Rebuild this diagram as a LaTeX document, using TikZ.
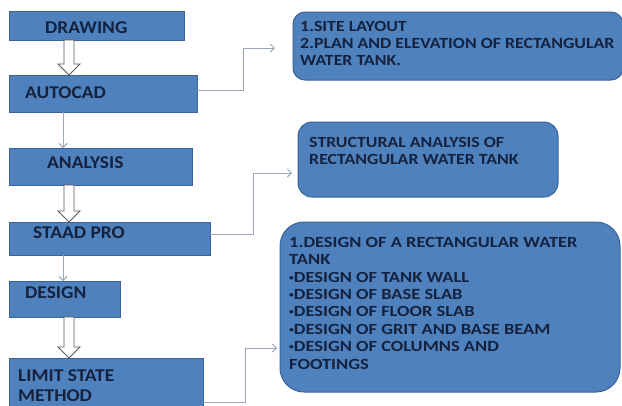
\documentclass[tikz,border=0pt]{standalone}
\usepackage{fontspec}
\setmainfont{Carlito}
\usetikzlibrary{arrows.meta,calc}
\definecolor{boxblue}{HTML}{4F81BD}
\definecolor{boxedge}{HTML}{3A639A}
\definecolor{txt}{HTML}{14223F}
\definecolor{conn}{HTML}{9AA6BA}
\definecolor{hol}{HTML}{5A5A5A}
\newcommand\smbul{\raisebox{2pt}{\fontsize{8}{8}\selectfont •}}
\begin{document}
\begin{tikzpicture}[x=1pt,y=-1pt,
  lbox/.style={draw=boxedge, fill=boxblue, line width=1pt, anchor=north west, inner sep=0pt, outer sep=0pt},
  rbox/.style={lbox, rounded corners=#1},
  ltext/.style={text=txt, font=\fontsize{18}{20}\selectfont\bfseries, anchor=west, inner sep=0pt, xscale=1.08, transform shape},
  rtext/.style={text=txt, font=\fontsize{15.5}{17}\selectfont\bfseries, anchor=north west, align=left, inner sep=0pt, xscale=1.15, transform shape},
  conn/.style={draw=conn, line width=0.9pt, -{Straight Barb[length=4pt,width=8pt]}},
  hollow/.style={draw=hol, fill=white, line width=0.9pt, line join=miter}]
\useasboundingbox (0,0) rectangle (622,405);
\clip (0,0) rectangle (622,405);
% left boxes
\node[lbox, minimum width=175pt, minimum height=29pt] (drawing) at (9,11) {};
\node[lbox, minimum width=188pt, minimum height=37pt] (autocad) at (9,75) {};
\node[lbox, minimum width=183pt, minimum height=37pt] (analysis) at (9,148) {};
\node[lbox, minimum width=201pt, minimum height=33pt] (staad) at (9,222) {};
\node[lbox, minimum width=111pt, minimum height=36pt] (design) at (9,281) {};
\node[lbox, minimum width=194pt, minimum height=88pt] (limit) at (9,358) {};
% left texts
\node[ltext] (tdrawing) at (45,27.5) {DRAWING};
\node[ltext] (tautocad) at (25,93) {AUTOCAD};
\node[ltext] (tanalysis) at (47,163) {ANALYSIS};
\node[ltext] (tstaad) at (33,233) {STAAD PRO};
\node[ltext] (tdesign) at (25,293) {DESIGN};
\node[ltext, anchor=north west, align=left] (tlimit) at (18,369.5) {LIMIT STATE\\METHOD};
% right boxes
\node[rbox=12pt, minimum width=330pt, minimum height=68pt] (b1) at (293,12) {};
\node[rbox=14pt, minimum width=260pt, minimum height=75pt] (b2) at (298,122) {};
\node[rbox=24pt, minimum width=340pt, minimum height=170pt] (b3) at (280,222) {};
% right texts
\node[rtext] (t1) at (300,21) {1.SITE LAYOUT\\2.PLAN AND ELEVATION OF RECTANGULAR\\WATER TANK.};
\node[rtext] (t2) at (309,137) {STRUCTURAL ANALYSIS OF\\RECTANGULAR WATER TANK};
\node[rtext, xscale=1.035, font=\fontsize{15.5}{17.4}\selectfont\bfseries] (t3) at (289,237) {1.DESIGN OF A RECTANGULAR WATER\\TANK\\\smbul DESIGN OF TANK WALL\\\smbul DESIGN OF BASE SLAB\\\smbul DESIGN OF FLOOR SLAB\\\smbul DESIGN OF GRIT AND BASE BEAM\\\smbul DESIGN OF COLUMNS AND\\FOOTINGS};
% free arrow ends
\coordinate (tip1) at (275,48);
\coordinate (tip2) at (292,173);
\coordinate (tip3) at (277,348);
% right connectors
\draw[conn] ([yshift=3.5pt]autocad.east) -| ($(tip1)+(-32,0)$) -- (tip1);
\draw[conn] ([yshift=4pt]staad.east) -| ($(tip2)+(-39,0)$) -- (tip2);
\draw[conn] (limit.east) -| ($(tip3)+(-32,0)$) -- (tip3);
% thin down arrows
\draw[conn] ($(autocad.south west)+(54,0)$) -- ($(analysis.north west)+(54,0)$);
\draw[conn] ($(staad.south west)+(54,0)$) -- ($(design.north west)+(54,0)$);
% hollow block arrows
\foreach \a/\b in {drawing/autocad, analysis/staad, design/limit}{
  \draw[hollow] let \p1=($(\a.south west)+(60,0)$), \p2=($(\b.north west)+(60,0)$) in
    (\x1-5pt,\y1) -- (\x1-5pt,\y2+11pt) -- (\x1-11pt,\y2+11pt) -- (\x1,\y2)
    -- (\x1+11pt,\y2+11pt) -- (\x1+5pt,\y2+11pt) -- (\x1+5pt,\y1) -- cycle;
}
\end{tikzpicture}
\end{document}
